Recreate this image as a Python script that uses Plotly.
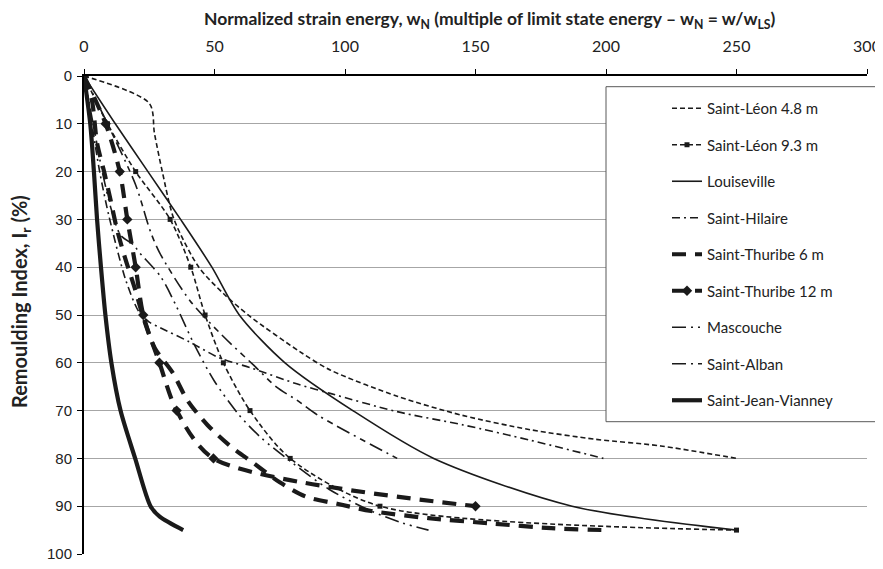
import plotly.graph_objects as go

# ---------------- data ----------------
names = ["Saint-Léon 4.8 m", "Saint-Léon 9.3 m", "Louiseville", "Saint-Hilaire",
         "Saint-Thuribe 6 m", "Saint-Thuribe 12 m", "Mascouche", "Saint-Alban",
         "Saint-Jean-Vianney"]

leon48_w = [0, 25, 27, 30, 34.5, 44, 53.4, 63.6, 82.8, 94.3, 120, 145, 171, 196, 221, 250]
leon48_i = [0, 5.7, 12, 20, 30, 40, 45.5, 50.3, 57.7, 61.5, 67, 71, 74, 76, 77.4, 80]

leon93_w = [0, 9, 19.8, 33, 40.9, 46.4, 53.4, 63.6, 79, 113.4, 250]
leon93_i = [0, 10, 20, 30, 40, 50, 60, 70, 80, 90, 95]

louis_w = [0, 12, 24.5, 37, 49, 59.5, 77, 103, 134, 187, 250]
louis_i = [0, 10, 20, 30, 40, 50, 60, 70, 80, 90, 95]

hil_w = [0, 3, 6, 9.6, 16, 21, 25, 29, 40.3, 52, 63.6, 81.5, 94.3, 119.8, 145.3, 171, 199]
hil_i = [0, 10, 20, 29.4, 42.7, 49.3, 51.5, 52.6, 55.6, 59, 61, 64.4, 66.4, 70.2, 73, 76.2, 80]

thu6_w = [0, 3, 5, 7.7, 10.2, 12.6, 15.7, 19.5, 23, 27.2, 33.9, 39.8, 47.3, 56, 65, 75, 85,
          97, 110, 132, 156, 179, 200]
thu6_i = [0, 5, 14, 20, 26, 32, 38, 44.5, 51, 57, 62, 68, 73, 77.4, 81, 85, 88,
          89.5, 91, 92.5, 93.6, 94.6, 95]

thu12_w = [0, 8.3, 13.7, 16.6, 19.8, 22.7, 28.9, 35.5, 49.6, 150]
thu12_i = [0, 10, 20, 30, 40, 50, 60, 70, 80, 90]

masc_w = [0, 3.5, 7, 10.5, 14, 19.2, 21, 29.4, 35.5, 41.9, 49.8, 59.4, 67.7, 80, 94, 110, 122, 132]
masc_i = [0, 10, 20, 28, 33.3, 35.4, 36.8, 42, 48.3, 55.8, 63.7, 70.9, 75.6, 81, 86.5, 91, 93.5, 95]

alban_w = [0, 9, 19.8, 25.5, 29, 40.6, 53.4, 65, 73.8, 81.5, 89.7, 116.5, 120]
alban_i = [0, 10, 22.8, 32.6, 37, 47, 54.5, 60.5, 65.1, 67.8, 71, 79, 80]

sjv_w = [0, 2.4, 3.8, 5, 6.5, 8.2, 10.5, 14, 19.6, 25.5, 29, 38]
sjv_i = [0, 10, 20, 30, 40, 50, 60, 70, 80, 90, 92.2, 95]

x_ticks = [0, 50, 100, 150, 200, 250, 300]
y_ticks = [0, 10, 20, 30, 40, 50, 60, 70, 80, 90, 100]

# ---------------- styling ----------------
INK = "#1a1a1a"
series = [
    (names[0], leon48_w, leon48_i, dict(width=1.6, dash="5px,3px"), None),
    (names[1], leon93_w, leon93_i, dict(width=1.6, dash="5px,3px"), dict(symbol="square", size=5)),
    (names[2], louis_w, louis_i, dict(width=1.6, dash="solid"), None),
    (names[3], hil_w, hil_i, dict(width=1.6, dash="8px,4px,2px,4px"), None),
    (names[4], thu6_w, thu6_i, dict(width=4.2, dash="14px,9px"), None),
    (names[5], thu12_w, thu12_i, dict(width=4.2, dash="14px,9px"), dict(symbol="diamond", size=8)),
    (names[6], masc_w, masc_i, dict(width=1.6, dash="14px,5px,2px,5px,2px,5px"), None),
    (names[7], alban_w, alban_i, dict(width=1.6, dash="14px,5px,2px,5px,6px,5px"), None),
    (names[8], sjv_w, sjv_i, dict(width=4.2, dash="solid"), None),
]

fig = go.Figure()
for nm, xs, ys, ln, mk in series:
    ln = dict(ln, color=INK, shape="spline", smoothing=0.8)
    kw = dict(x=xs, y=ys, name=nm, line=ln, legendgroup=nm)
    if mk:
        kw["mode"] = "lines+markers"
        kw["marker"] = dict(mk, color=INK)
    else:
        kw["mode"] = "lines"
    fig.add_trace(go.Scatter(**kw))

# the page body has an 8px default margin: work in page pixels, convert
OFF = 8
W, H = 883 - OFF, 569 - OFF
PL, PR, PT, PB = 84, 867, 76, 554   # plot area in page pixels
L, T = PL - OFF, PT - OFF
R = W - (PR - OFF)
B = H - (PB - OFF)
pw, ph = PR - PL, PB - PT


def px_x(p):
    return (p - PL) / pw


def px_y(p):
    return (PB - p) / ph


fig.update_layout(
    width=W, height=H,
    margin=dict(l=L, r=R, t=T, b=B),
    paper_bgcolor="white", plot_bgcolor="white",
    showlegend=True,
    legend=dict(
        x=px_x(667), y=px_y(92), xanchor="left", yanchor="top",
        bgcolor="rgba(0,0,0,0)", borderwidth=0,
        font=dict(family="Lato", size=15, color="#222"),
        traceorder="grouped", tracegroupgap=14,
    ),
    xaxis=dict(
        side="top", range=[0, 300], tickvals=x_ticks, ticktext=[str(v) for v in x_ticks],
        showline=True, linecolor="black", linewidth=2,
        ticks="outside", ticklen=5, tickwidth=1, tickcolor="black",
        showgrid=False, zeroline=False, automargin=False,
        tickfont=dict(family="Lato", size=16, color="#222"),
        ticklabelstandoff=11,
    ),
    yaxis=dict(
        range=[100, 0], tickvals=y_ticks, ticktext=[str(v) for v in y_ticks],
        showline=True, linecolor="black", linewidth=2,
        ticks="outside", ticklen=5, tickwidth=1, tickcolor="black",
        showgrid=True, gridcolor="#a6a6a6", gridwidth=1,
        zeroline=False, automargin=False,
        tickfont=dict(family="Liberation Sans", size=15, color="#222"),
        ticklabelstandoff=2,
    ),
    shapes=[dict(
        type="rect", xref="paper", yref="paper",
        x0=px_x(606), x1=px_x(881), y0=px_y(421.7), y1=px_y(86.7),
        line=dict(color="#595959", width=1), fillcolor="white", layer="above",
    )],
    annotations=[
        dict(text="<b>Normalized strain energy, w<sub>N</sub> (multiple of limit state energy – "
                  "w<sub>N</sub> = w/w<sub>LS</sub>)</b>",
             xref="paper", yref="paper", x=px_x(490), y=px_y(20),
             xanchor="center", yanchor="middle", showarrow=False,
             font=dict(family="Lato", size=17.5, color="#222")),
        dict(text="<b>Remoulding Index, I<sub>r</sub> (%)</b>",
             xref="paper", yref="paper", x=px_x(20), y=px_y(302),
             xanchor="center", yanchor="middle", showarrow=False, textangle=-90,
             font=dict(family="Lato", size=20, color="#222")),
    ],
)

fig.write_html("out.html")
